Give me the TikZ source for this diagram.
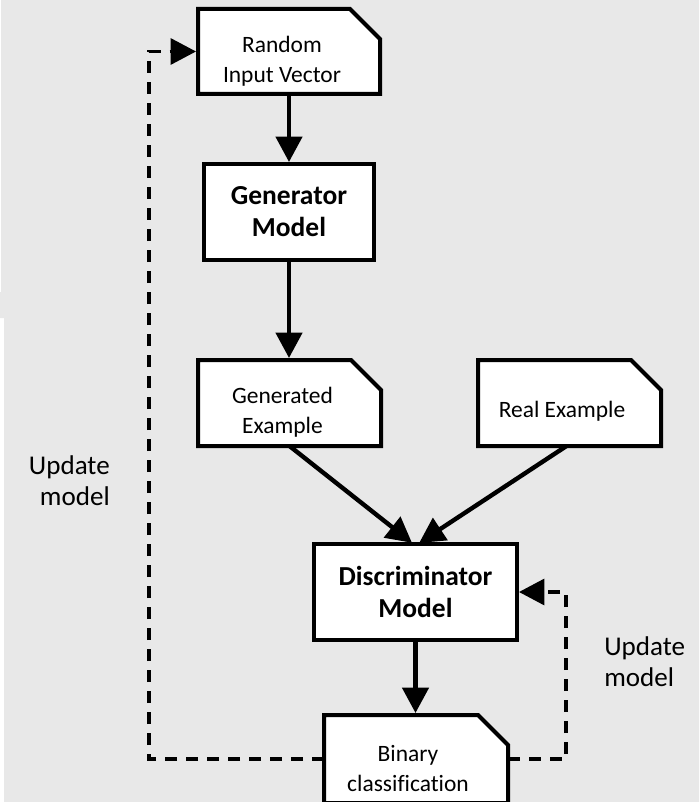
\documentclass[tikz,border=0pt]{standalone}
\usepackage{fontspec}
\setmainfont{Carlito}[Ligatures=CommonOff]
\usetikzlibrary{arrows.meta,backgrounds}
\definecolor{canvas}{HTML}{E8E8E8}

\tikzset{
  px/.style={x=0.75pt,y=-0.75pt},
  boxarea/.style={rectangle, inner sep=0pt, outer sep=0pt},
  outline/.style={draw=black, fill=white, line width=3pt, line join=miter},
  doctext/.style={inner sep=0pt, align=center, font=\fontsize{17.6}{22.5}\selectfont},
  modeltext/.style={inner sep=0pt, align=center, font=\bfseries\fontsize{20.6}{24}\selectfont},
  notetext/.style={inner sep=0pt, font=\fontsize{20.3}{23.25}\selectfont},
  flow/.style={line width=3.3pt, shorten >=1.5pt, -{Triangle[length=19pt,width=19.5pt]}},
  feedback/.style={line width=2.3pt, dash pattern=on 9pt off 6.75pt, shorten >=1.5pt,
                   -{Triangle[length=19pt,width=19.5pt]}},
}

% document shape with a clipped top-right corner
\newcommand\foldbox[1]{%
  \draw[outline] (#1.south west) -- (#1.north west)
    -- ([shift={(-30,0)}]#1.north east) -- ([shift={(0,30)}]#1.north east)
    -- (#1.south east) -- cycle;}

\begin{document}
\begin{tikzpicture}[px]
  \useasboundingbox (0,0) rectangle (699,802);

  % document boxes (outlines drawn on the background layer)
  \node[boxarea, minimum width=182*0.75pt, minimum height=85*0.75pt] (rnd) at (289,51.5) {};
  \node[boxarea, minimum width=183*0.75pt, minimum height=86*0.75pt] (gex) at (289.5,403) {};
  \node[boxarea, minimum width=183*0.75pt, minimum height=86*0.75pt] (real) at (569.5,403) {};
  \node[boxarea, minimum width=184*0.75pt, minimum height=88*0.75pt] (bin) at (416,759) {};

  \node[doctext] (rndT) at (282,61) {Random\\Input Vector};
  \node[doctext] (gexT) at (282.5,412) {Generated\\Example};
  \node[doctext] (realT) at (562,411) {Real Example};
  \node[doctext] (binT) at (408,768.5) {Binary\\classification};

  % model boxes
  \node[boxarea, outline, modeltext, minimum width=170*0.75pt, minimum height=96*0.75pt]
    (gen) at (289,212) {Generator\\Model};
  \node[boxarea, outline, modeltext, minimum width=203*0.75pt, minimum height=96*0.75pt]
    (disc) at (415.5,592) {Discriminator\\Model};

  % main flow
  \draw[flow] (rnd.south) -- (rnd.south |- gen.north);
  \draw[flow] (gen.south) -- (gen.south |- gex.north);
  \draw[flow] (gex.south) -- ([shift={(-2,0)}]disc.north);
  \draw[flow] ([shift={(-3,0)}]real.south) -- ([shift={(2,0)}]disc.north);
  \draw[flow] (disc.south) -- (disc.south |- bin.north);

  % update loops
  \coordinate (lx) at (149,0);
  \coordinate (rx) at (566,0);
  \draw[feedback] (bin.west) -- (bin.west -| lx) -- (rnd.west -| lx) -- (rnd.west);
  \draw[feedback] (bin.east) -- (bin.east -| rx) -- (disc.east -| rx) -- (disc.east);

  \node[notetext, align=right, anchor=east] (updL) at (110,480.5) {Update\\model};
  \node[notetext, align=left, anchor=west] (updR) at (604,661.5) {Update\\model};

  \begin{scope}[on background layer]
    \fill[white] (0,0) rectangle (699,802);
    \fill[canvas] (1,0) -- (699,0) -- (699,802) -- (4,802) -- (4,318)
      -- (0,318) -- (0,292) -- (1,292) -- cycle;
    \foldbox{rnd}
    \foldbox{gex}
    \foldbox{real}
    \foldbox{bin}
  \end{scope}
\end{tikzpicture}
\end{document}
